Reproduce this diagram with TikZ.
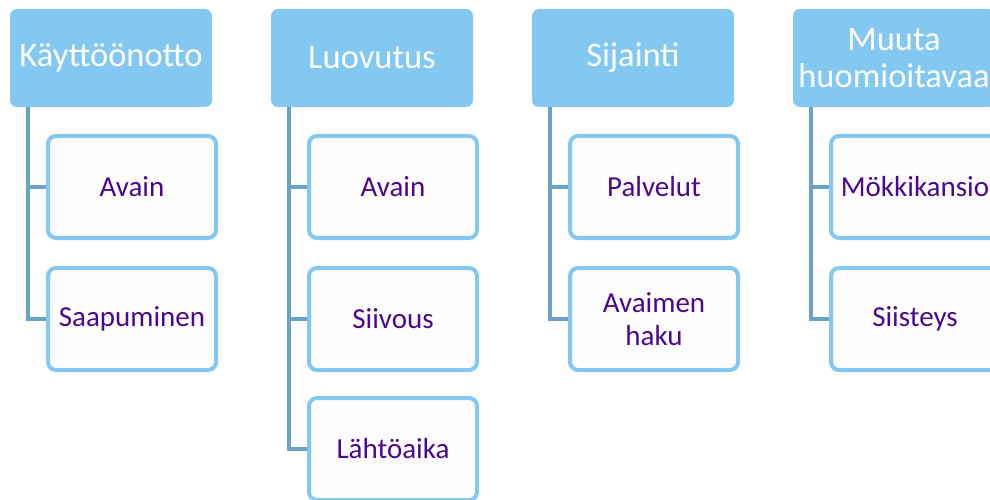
\documentclass[tikz,border=0pt]{standalone}
\usepackage{fontspec}
\setmainfont{Carlito}
\definecolor{hdr}{RGB}{131,200,240}
\definecolor{conn}{RGB}{106,163,198}
\definecolor{childfill}{RGB}{253,253,254}
\definecolor{purp}{RGB}{75,8,140}
\tikzset{
  header/.style={fill=hdr, draw=none, rounded corners=7pt, minimum width=202pt, minimum height=98pt,
    text=white, font=\fontsize{34.5}{37}\selectfont, align=center, inner sep=0pt},
  child/.style={draw=hdr, line width=4pt, fill=childfill, rounded corners=8pt, minimum width=168pt,
    minimum height=102pt, text=purp, font=\fontsize{29}{33}\selectfont, align=center, inner sep=0pt},
  conn/.style={draw=conn, line width=4.5pt, line join=miter}
}
\begin{document}
\begin{tikzpicture}[x=1pt,y=-1pt]
\useasboundingbox (0,0) rectangle (990,500);
% headers
\node[header] (h1) at (111,58) {Käyttöönotto};
\node[header] (h2) at (372,58) {Luovutus};
\node[header] (h3) at (633,58) {Sijainti};
\node[header] (h4) at (894,58) {Muuta\\huomioitavaa};
% connector tops
\coordinate (h1b) at ([xshift=18pt]h1.south west);
\coordinate (h2b) at ([xshift=18pt]h2.south west);
\coordinate (h3b) at ([xshift=18pt]h3.south west);
\coordinate (h4b) at ([xshift=18pt]h4.south west);
% children
\node[child] (c1a) at (132,187) {Avain};
\node[child] (c1b) at (132,319) {Saapuminen};
\node[child] (c2a) at (393,187) {Avain};
\node[child] (c2b) at (393,319) {Siivous};
\node[child] (c2c) at (393,449) {Lähtöaika};
\node[child] (c3a) at (654,187) {Palvelut};
\node[child] (c3b) at (654,319) {Avaimen\\haku};
\node[child] (c4a) at (915,187) {Mökkikansio};
\node[child] (c4b) at (915,319) {Siisteys};
% connectors
\draw[conn] (h1b) |- (c1a.west);
\draw[conn] (h1b) |- (c1b.west);
\draw[conn] (h2b) |- (c2a.west);
\draw[conn] (h2b) |- (c2b.west);
\draw[conn] (h2b) |- (c2c.west);
\draw[conn] (h3b) |- (c3a.west);
\draw[conn] (h3b) |- (c3b.west);
\draw[conn] (h4b) |- (c4a.west);
\draw[conn] (h4b) |- (c4b.west);
\end{tikzpicture}
\end{document}
